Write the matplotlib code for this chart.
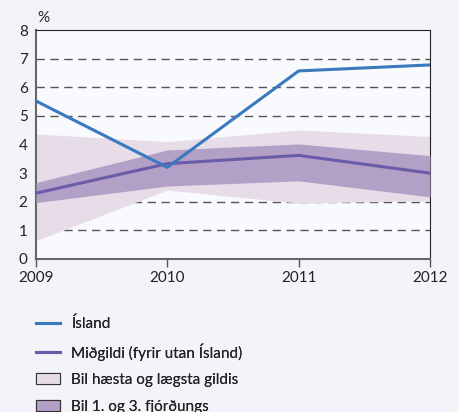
import matplotlib
matplotlib.use("Agg")
import matplotlib.pyplot as plt
from matplotlib.lines import Line2D
from matplotlib.patches import Patch

plt.rcParams['font.family'] = ['Lato', 'DejaVu Sans']

years = [2009, 2010, 2011, 2012]
island = [5.52, 3.2, 6.57, 6.78]
median = [2.3, 3.33, 3.62, 3.0]
q1 = [1.97, 2.55, 2.73, 2.17]
q3 = [2.67, 3.81, 4.02, 3.61]
vmin = [0.64, 2.41, 1.95, 2.04]
vmax = [4.37, 4.1, 4.51, 4.28]

labels = ["Ísland", "Miðgildi (fyrir utan Ísland)",
          "Bil hæsta og lægsta gildis", "Bil 1. og 3. fjórðungs"]

c_island = "#3a79bd"
c_median = "#6b5ca9"
c_range = "#e6dde8"
c_quart = "#b2a0c7"

fig = plt.figure(figsize=(4.59, 4.12), dpi=100, facecolor="#f2f4f9")
ax = fig.add_axes([36/459, 1-259/412, (430-36)/459, (259-30)/412])
ax.set_facecolor("#f9fafd")

for y in range(1, 8):
    ax.axhline(y, color="#555555", lw=1.0, ls=(0, (6, 4)), zorder=1)

ax.fill_between(years, vmin, vmax, color=c_range, lw=0, zorder=2)
ax.fill_between(years, q1, q3, color=c_quart, lw=0, zorder=3)
ax.plot(years, median, color=c_median, lw=2.2, zorder=4)
ax.plot(years, island, color=c_island, lw=2.2, zorder=5)

ax.set_xlim(2009, 2012)
ax.set_ylim(0, 8)
ax.set_xticks(years)
ax.set_yticks(range(0, 9))
ax.tick_params(axis='x', length=6, width=1, color="#555555", labelsize=11, pad=3)
ax.tick_params(axis='y', length=0, labelsize=11, pad=6)
ax.spines['left'].set_color("#666666")
ax.spines['bottom'].set_color("#666666")
ax.spines['left'].set_linewidth(1.5)
ax.spines['bottom'].set_linewidth(1.5)
ax.spines['top'].set_color("#222222")
ax.spines['right'].set_color("#222222")
for lab in ax.get_xticklabels() + ax.get_yticklabels():
    lab.set_color("#222222")

fig.text(37/459, 1-18/412, "%", fontsize=11, color="#222222", va="center", ha="left")

handles = [
    Line2D([], [], color=c_island, lw=2.2),
    Line2D([], [], color=c_median, lw=2.2),
    Patch(facecolor=c_range, edgecolor="#333333", lw=0.8),
    Patch(facecolor=c_quart, edgecolor="#333333", lw=0.8),
]
row_y = [324, 352, 380, 407]
for h, lab, ry in zip(handles, labels, row_y):
    leg = fig.legend([h], [lab], loc="center left",
                     bbox_to_anchor=(36/459, 1-ry/412), frameon=False,
                     fontsize=11, handlelength=1.6, handleheight=0.7,
                     handletextpad=0.72, borderaxespad=0, borderpad=0)
    for t in leg.get_texts():
        t.set_color("#222222")
    fig.add_artist(leg)

fig.savefig("out.png", dpi=100, facecolor=fig.get_facecolor())
